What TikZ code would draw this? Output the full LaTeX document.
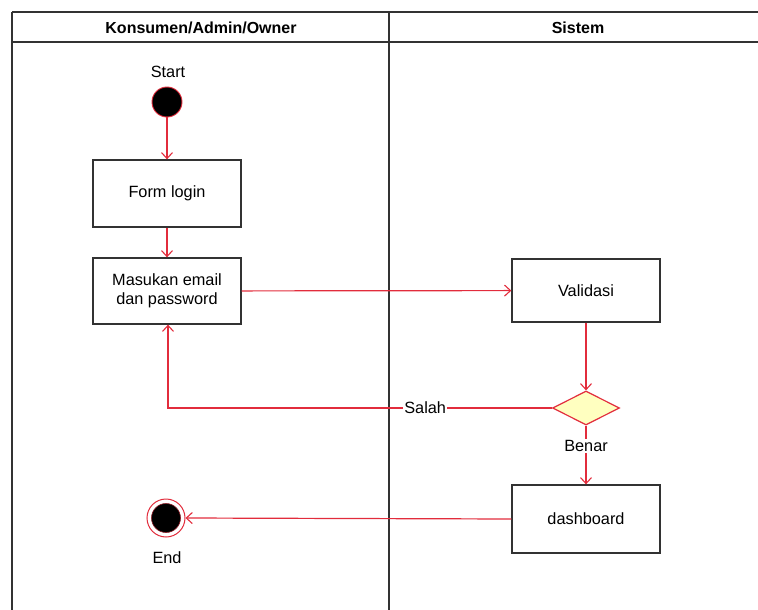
\documentclass[tikz,border=0pt]{standalone}
\usepackage{fontspec}
\setmainfont{Liberation Sans}
\usetikzlibrary{arrows.meta,shapes.geometric}
\definecolor{flow}{RGB}{226,44,60}
\definecolor{lane}{RGB}{50,50,50}
\definecolor{decfill}{RGB}{255,255,192}
\begin{document}
\begin{tikzpicture}[x=1pt,y=-1pt,
  font=\fontsize{16.3}{19}\selectfont,
  lanestyle/.style={draw=lane,line width=1.6pt},
  actbox/.style={draw=lane,line width=1.3pt,fill=white,minimum width=148pt,inner sep=0pt,align=center},
  flowline/.style={draw=flow,line width=1.2pt,-{Straight Barb[length=6pt,width=11pt,line width=1.1pt]}},
  decision/.style={diamond,draw=flow,line width=1.2pt,fill=decfill,minimum width=67pt,minimum height=34pt,inner sep=0pt,aspect=2},
  initial/.style={circle,draw=flow,line width=0.9pt,fill=black,minimum size=30pt,inner sep=0pt},
  final/.style={circle,draw=flow,line width=1pt,fill=white,minimum size=38pt,inner sep=0pt},
  finaldot/.style={circle,fill=black,draw=flow!60!black,line width=0.6pt,minimum size=29pt,inner sep=0pt},
  lbl/.style={inner sep=1pt}]
\useasboundingbox (0,0) rectangle (758,610);

% swimlanes
\coordinate (tl) at (12,12);
\coordinate (tr) at (758,12);
\coordinate (hl) at (12,42);
\coordinate (hr) at (758,42);
\coordinate (bl) at (12,610);
\coordinate (dt) at (389,12);
\coordinate (db) at (389,610);
\draw[lanestyle] (tl) -- (tr);
\draw[lanestyle,line width=1.3pt] (hl) -- (hr);
\draw[lanestyle,line width=2pt] (tl) -- (bl);
\draw[lanestyle,line width=2pt] (dt) -- (db);
\node[font=\fontsize{16}{19}\selectfont\bfseries] (laneA) at (201,28) {Konsumen/Admin/Owner};
\node[font=\fontsize{16}{19}\selectfont\bfseries] (laneB) at (578,28) {Sistem};

% activity nodes
\node[lbl] (starttxt) at (168,72) {Start};
\node[initial] (start) at (167,102) {};
\node[actbox,minimum height=67pt] (form) at (167,193.5) {Form login};
\node[actbox,minimum height=66pt,font=\fontsize{16.3}{19.5}\selectfont] (input) at (167,291) {Masukan email\\dan password};
\node[actbox,minimum height=63pt] (valid) at (586,290.5) {Validasi};
\node[decision] (dec) at (586,408) {};
\node[actbox,minimum height=68pt] (dash) at (586,519) {dashboard};
\node[final] (end) at (166,518) {};
\node[finaldot] at (end) {};
\node[lbl] (endtxt) at (167,558) {End};

% connectors
\draw[flowline] (start) -- (form);
\draw[flowline] (form) -- (input);
\draw[flowline] (input) -- (valid);
\draw[flowline] (valid) -- (dec.north);
\draw[flowline] (dec.west) -- (168,408) node[pos=0.33,fill=white,lbl] {Salah} -- (input.south -| 168,0);
\draw[flowline] (dec.south) -- (dash.north) node[pos=0.35,fill=white,lbl] {Benar};
\draw[flowline] (dash.west) -- (end.east);
\end{tikzpicture}
\end{document}
